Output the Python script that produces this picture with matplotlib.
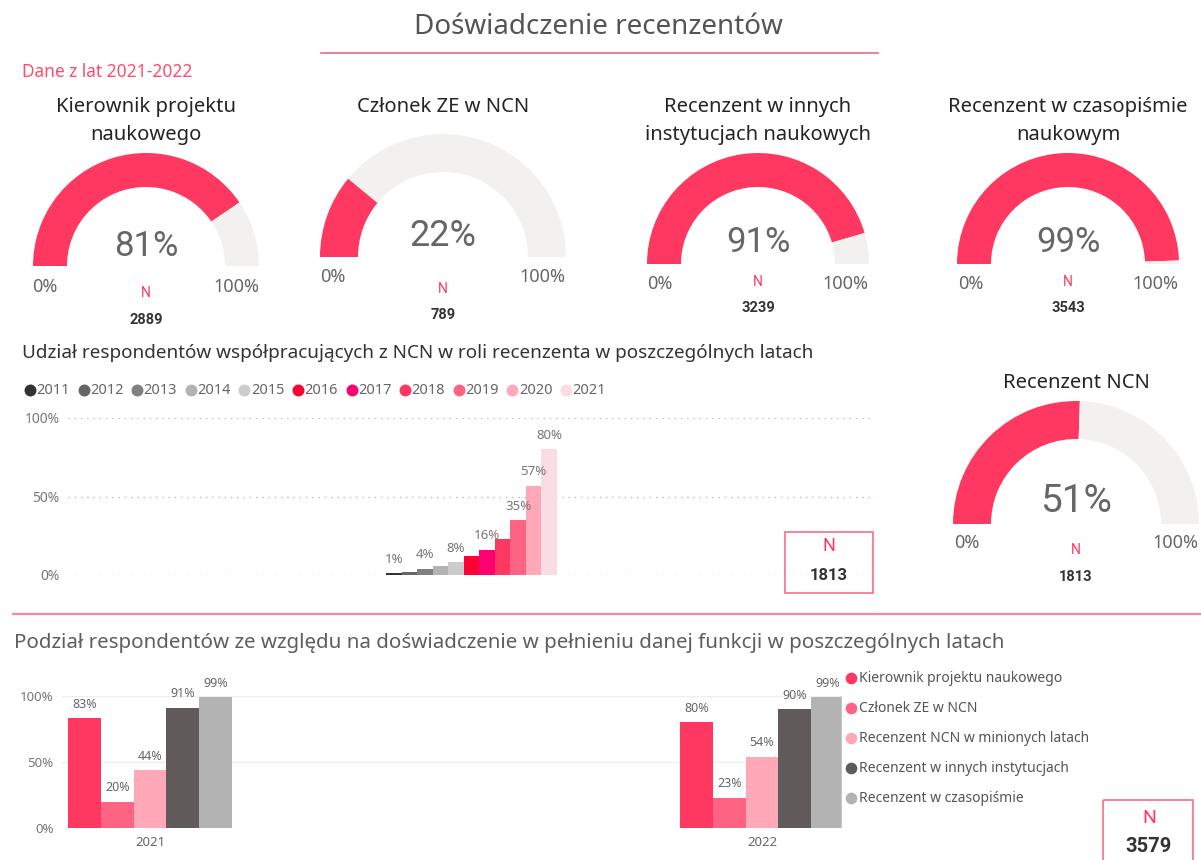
import matplotlib
matplotlib.use('Agg')
import matplotlib.pyplot as plt
from matplotlib.patches import Wedge, Rectangle

plt.rcParams['font.family'] = ['Noto Sans', 'DejaVu Sans']
NARROW = ['Liberation Sans Narrow', 'Roboto', 'DejaVu Sans']

W, H = 1201, 860

# --- dane: wskaźniki (gauge) ---
gauge_titles = ['Kierownik projektu\nnaukowego', 'Członek ZE w NCN',
                'Recenzent w innych\ninstytucjach naukowych',
                'Recenzent w czasopiśmie\nnaukowym', 'Recenzent NCN']
gauge_values = [81, 22, 91, 99, 51]
gauge_n = [2889, 789, 3239, 3543, 1813]

# --- dane: udział recenzentów NCN w latach ---
years = ['2011', '2012', '2013', '2014', '2015', '2016',
         '2017', '2018', '2019', '2020', '2021']
year_share = [1, 2, 4, 6, 8, 12, 16, 23, 35, 57, 80]
year_labels_shown = ['2011', '2013', '2015', '2017', '2019', '2020', '2021']
year_n = 1813

# --- dane: podział wg funkcji ---
roles = ['Kierownik projektu naukowego', 'Członek ZE w NCN',
         'Recenzent NCN w minionych latach', 'Recenzent w innych instytucjach',
         'Recenzent w czasopiśmie']
survey_years = ['2021', '2022']
share_2021 = [83, 20, 44, 91, 99]
share_2022 = [80, 23, 54, 90, 99]
roles_n = 3579

# kolory
PINK = '#FF3862'
GREY_ARC = '#F2F1F0'
year_colors = ['#333333', '#666666', '#808080', '#B3B3B3', '#CCCCCC', '#FF0033',
               '#FF0070', '#FF3862', '#FF6384', '#FFA8B8', '#FADDE3']
role_colors = ['#FF3862', '#FF6384', '#FFA8B8', '#605B5A', '#B3B3B3']

fig = plt.figure(figsize=(W / 100, H / 100), dpi=100)
bg = fig.add_axes([0, 0, 1, 1])
bg.set_xlim(0, W)
bg.set_ylim(H, 0)
bg.axis('off')

# tytuł
bg.text(598, 27, 'Doświadczenie recenzentów', ha='center', va='center', fontsize=20, color='#555555')
bg.plot([321, 878], [52.5, 52.5], color='#F06A86', lw=1.2)
bg.text(22, 72, 'Dane z lat 2021-2022', ha='left', va='center', fontsize=12.5, color='#FF4D6D')

# wskaźniki: cx, cy, r zewn., r wewn., y tytułu, y %, x 0%, x 100%, y 0%/100%, y N, y liczby, rozmiar %
gauge_layout = [
    (146, 266, 113, 79, 107, 246, 45, 236, 287, 293, 320, 25),
    (443, 257, 123, 85, 107, 236, 333, 542, 277, 289, 315, 26),
    (758, 264, 111, 77, 107, 243, 660, 845, 284, 282, 308, 25),
    (1068, 264, 111, 77, 107, 243, 971, 1155, 284, 282, 308, 25),
    (1076, 524, 123, 85, 383, 502, 967, 1175, 543, 550, 577, 28),
]

for title, val, n, lay in zip(gauge_titles, gauge_values, gauge_n, gauge_layout):
    cx, cy, ro, ri, ty, py, x0, x1, ly, ny, my, pfs = lay
    # oś y odwrócona: lewa strona = 180, góra = 270, prawa = 360
    ang = 180 + 180 * val / 100
    bg.add_patch(Wedge((cx, cy), ro, 180, ang, width=ro - ri, color=PINK, lw=0))
    bg.add_patch(Wedge((cx, cy), ro, ang, 360, width=ro - ri, color=GREY_ARC, lw=0))
    for k, line in enumerate(title.split('\n')):
        bg.text(cx, ty + 28 * k, line, ha='center', va='center', fontsize=14.5, color='#252423')
    bg.text(cx, py, f'{val}%', ha='center', va='center', fontsize=pfs, color='#666666',
            family=NARROW)
    bg.text(x0, ly, '0%', ha='center', va='center', fontsize=13, color='#666666')
    bg.text(x1, ly, '100%', ha='center', va='center', fontsize=13, color='#666666')
    bg.text(cx, ny, 'N', ha='center', va='center', fontsize=10, color='#FF3862', family=NARROW)
    bg.text(cx, my, f'{n}', ha='center', va='center', fontsize=10.5, color='#333333',
            family=NARROW, fontweight='bold')

# --- wykres: udział w latach ---
bg.text(22, 353, 'Udział respondentów współpracujących z NCN w roli recenzenta w poszczególnych latach',
        ha='left', va='center', fontsize=13.6, color='#333333')
for i, (y, c) in enumerate(zip(years, year_colors)):
    bg.plot(30 + 53.6 * i, 390, 'o', ms=8.6, color=c, mec='none')
    bg.text(36.5 + 53.6 * i, 390, y, ha='left', va='center', fontsize=10.5, color='#666666')

ax1 = fig.add_axes([68 / W, 1 - 575 / H, (875 - 68) / W, (575 - 418) / H])
ax1.set_facecolor('none')
ax1.set_xlim(-0.5, 0.5)
ax1.set_ylim(0, 100)
bw = 15.5 / 807
for i, (y, v, c) in enumerate(zip(years, year_share, year_colors)):
    x = (i - (len(years) - 1) / 2) * bw
    ax1.bar(x, v, width=bw, color=c, zorder=3)
    if y in year_labels_shown:
        ax1.annotate(f'{v}%', (x, v), xytext=(0, 10), textcoords='offset points',
                     ha='center', va='center', fontsize=9.5, color='#777777', zorder=4)
ax1.set_xticks([])
ax1.set_yticks([0, 50, 100], ['0%', '50%', '100%'])
ax1.tick_params(axis='y', length=0, pad=6, labelsize=10, labelcolor='#777777')
ax1.yaxis.grid(True, linestyle=(0, (1, 3.5)), color='#BBBBBB', lw=1)
for s in ax1.spines.values():
    s.set_visible(False)

# ramka N
bg.add_patch(Rectangle((785, 532), 88, 61, fill=False, ec='#F47A92', lw=1.3))
bg.text(829, 546, 'N', ha='center', va='center', fontsize=13, color='#FF3862', family=NARROW)
bg.text(829, 576, f'{year_n}', ha='center', va='center', fontsize=12, color='#333333',
        family=NARROW, fontweight='bold')

# separator
bg.plot([13, W], [613.5, 613.5], color='#F6899F', lw=1.6)

# --- wykres: podział wg funkcji ---
bg.text(14, 643, 'Podział respondentów ze względu na doświadczenie w pełnieniu danej funkcji w poszczególnych latach',
        ha='left', va='center', fontsize=14.8, color='#605E5C')

ax2 = fig.add_axes([62 / W, 1 - 828 / H, (841 - 62) / W, (828 - 696) / H])
ax2.set_facecolor('none')
ax2.set_xlim(-0.1438, 1.129)
ax2.set_ylim(0, 100)
bw2 = 32.7 / 612
for j, (role, c) in enumerate(zip(roles, role_colors)):
    vals = [share_2021[j], share_2022[j]]
    xs = [k + (j - 2) * bw2 for k in range(len(survey_years))]
    ax2.bar(xs, vals, width=bw2, color=c, zorder=3, label=role)
    for x, v in zip(xs, vals):
        ax2.annotate(f'{v}%', (x, v), xytext=(0, 10), textcoords='offset points',
                     ha='center', va='center', fontsize=9, color='#666666', zorder=4)
ax2.set_xticks(range(len(survey_years)), survey_years)
ax2.set_yticks([0, 50, 100], ['0%', '50%', '100%'])
ax2.tick_params(axis='x', length=0, pad=6, labelsize=9.5, labelcolor='#666666')
ax2.tick_params(axis='y', length=0, pad=6, labelsize=9.5, labelcolor='#777777')
ax2.yaxis.grid(True, color='#EFEFEF', lw=1)
for s in ax2.spines.values():
    s.set_visible(False)

bg.plot([841, 841], [697, 827], color='#C8C8C8', lw=1.5)

# legenda
for k, (role, c) in enumerate(zip(roles, role_colors)):
    bg.plot(851, 678 + 30 * k, 'o', ms=8.4, color=c, mec='none')
    bg.text(859, 678 + 30 * k, role, ha='left', va='center', fontsize=10, color='#555555')

bg.add_patch(Rectangle((1103, 800), 90, 80, fill=False, ec='#F47A92', lw=1.3))
bg.text(1149, 818, 'N', ha='center', va='center', fontsize=14, color='#FF3862', family=NARROW)
bg.text(1149, 847, f'{roles_n}', ha='center', va='center', fontsize=14.5, color='#333333',
        family=NARROW, fontweight='bold')

fig.savefig('out.png', dpi=100)
